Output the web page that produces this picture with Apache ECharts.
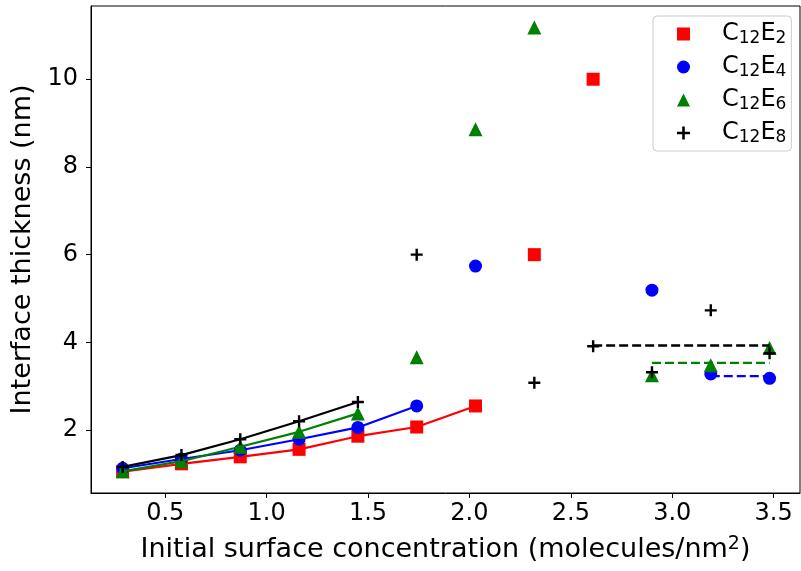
<!DOCTYPE html>
<html>
<head>
<meta charset="utf-8">
<script src="https://cdn.jsdelivr.net/npm/echarts@6/dist/echarts.min.js"></script>
<style>
  html, body { margin: 0; padding: 0; background: #fff; }
  #chart { width: 801px; height: 571px; }
</style>
</head>
<body>
<div id="chart"></div>
<script>
// initial surface concentration (molecules/nm^2)
const xVals = [0.29, 0.58, 0.87, 1.16, 1.45, 1.74, 2.03, 2.32, 2.61, 2.90, 3.19, 3.48];
// interface thickness (nm), null = no point
const c12e2 = [1.05, 1.23, 1.39, 1.56, 1.86, 2.07, 2.55, 6.00, 10.00, null, null, null];
const c12e4 = [1.13, 1.34, 1.54, 1.79, 2.06, 2.55, 5.74, null, null, 5.19, 3.28, 3.18];
const c12e6 = [1.06, 1.29, 1.62, 1.96, 2.38, 3.66, 8.86, 11.18, null, 3.25, 3.48, 3.87];
const c12e8 = [1.16, 1.43, 1.79, 2.20, 2.64, 6.00, null, 3.08, 3.91, 3.32, 4.73, 3.75];
const names = ["C12E2", "C12E4", "C12E6", "C12E8"];
// how many leading points get the solid line, and where the dashed plateau starts
const solidCount = [7, 6, 5, 5];
const plateauStart = [null, 10, 9, 8];
const xTicks = [0.5, 1.0, 1.5, 2.0, 2.5, 3.0, 3.5];
const yTicks = [2, 4, 6, 8, 10];

const allData = [c12e2, c12e4, c12e6, c12e8];
const colors = ["#ff0000", "#0000ff", "#008000", "#000000"];
const plusPath = "path://M4,0H6V4H10V6H6V10H4V6H0V4H4Z";
const symbols = ["rect", "circle", "triangle", plusPath];
const symbolSizes = [13, 13, 14, 12];

let series = [];
allData.forEach((vals, i) => {
  const pts = xVals.map((x, j) => [x, vals[j]]);
  series.push({
    name: names[i] + "_fit",
    type: "line",
    data: pts.slice(0, solidCount[i]),
    symbol: "none",
    lineStyle: { color: colors[i], width: 2.2 },
    z: 2 + i
  });
  series.push({
    name: names[i],
    type: "scatter",
    data: pts.filter((p) => p[1] !== null),
    symbol: symbols[i],
    symbolSize: symbolSizes[i],
    itemStyle: { color: colors[i], opacity: 1 },
    z: 2 + i
  });
  if (plateauStart[i] !== null) {
    const plat = vals.slice(plateauStart[i]);
    const mean = plat.reduce((a, b) => a + b, 0) / plat.length;
    series.push({
      name: names[i] + "_mean",
      type: "line",
      data: [[xVals[plateauStart[i]], mean], [xVals[xVals.length - 1], mean]],
      symbol: "none",
      lineStyle: { color: colors[i], width: 2.4, type: [9, 4] },
      z: 2 + i
    });
  }
});

const font = "DejaVu Sans";
let myChart = echarts.init(document.getElementById("chart"));
let option = {
  animation: false,
  backgroundColor: "#fff",
  textStyle: { fontFamily: font, color: "#000" },
  grid: {
    left: 91,
    right: 1,
    top: 6,
    bottom: 78,
    show: true,
    borderColor: "#000",
    borderWidth: 1
  },
  legend: {
    orient: "vertical",
    left: 653,
    top: 16,
    padding: [6, 5, 5, 24],
    itemGap: 8,
    itemWidth: 13,
    itemHeight: 13,
    borderColor: "#cccccc",
    borderWidth: 1,
    borderRadius: 4,
    backgroundColor: "rgba(255,255,255,0.8)",
    data: names.map((n, i) => ({ name: n, icon: symbols[i], itemStyle: { color: colors[i] } })),
    formatter: (name) => name.replace(/^C(\d+)E(\d+)$/, "{sp|}{n|C}{s|$1}{n|E}{s|$2}"),
    textStyle: {
      fontFamily: font,
      color: "#000",
      rich: {
        sp: { width: 27 },
        n: { fontSize: 24, lineHeight: 26, fontFamily: font },
        s: { fontSize: 17, lineHeight: 11, verticalAlign: "bottom", fontFamily: font }
      }
    }
  },
  xAxis: {
    type: "value",
    min: 0.134,
    max: 3.63,
    name: "{t|Initial surface concentration (molecules/nm}{p|2}{t|)}",
    nameLocation: "middle",
    nameGap: 42,
    nameTextStyle: {
      rich: {
        t: { fontSize: 27, lineHeight: 30, fontFamily: font, color: "#000" },
        p: { fontSize: 19, lineHeight: 12, verticalAlign: "top", fontFamily: font, color: "#000" }
      }
    },
    axisLine: { show: true, lineStyle: { color: "#000", width: 1 } },
    axisTick: { show: true, length: 5, customValues: xTicks, lineStyle: { color: "#000", width: 1 } },
    axisLabel: {
      customValues: xTicks,
      formatter: (v) => v.toFixed(1),
      fontSize: 24,
      fontFamily: font,
      color: "#000",
      margin: 9
    },
    splitLine: { show: false }
  },
  yAxis: {
    type: "value",
    min: 0.565,
    max: 11.67,
    name: "Interface thickness (nm)",
    nameLocation: "middle",
    nameGap: 53,
    nameTextStyle: { fontSize: 27, fontFamily: font, color: "#000" },
    axisLine: { show: true, lineStyle: { color: "#000", width: 1 } },
    axisTick: { show: true, length: 5, customValues: yTicks, lineStyle: { color: "#000", width: 1 } },
    axisLabel: {
      customValues: yTicks,
      formatter: (v) => String(v),
      fontSize: 24,
      fontFamily: font,
      color: "#000",
      margin: 13
    },
    splitLine: { show: false }
  },
  series: series
};
myChart.setOption(option);
</script>
</body>
</html>
